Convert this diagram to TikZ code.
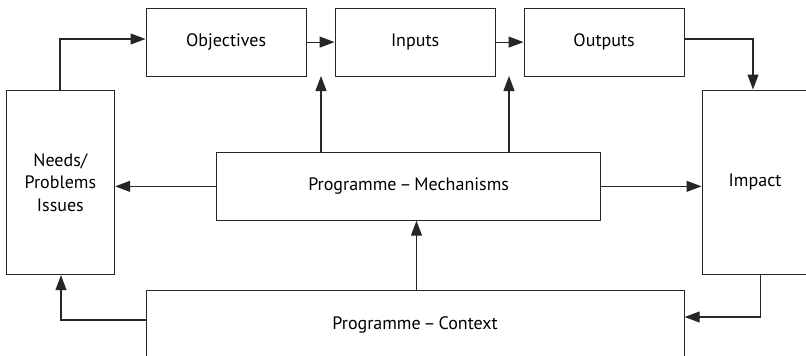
\documentclass[tikz,border=0pt]{standalone}
\usepackage{fontspec}
\setmainfont{PT Sans}
\usetikzlibrary{arrows.meta}
\begin{document}
\begin{tikzpicture}[x=1pt,y=-1pt,
  box/.style={draw=black!85,line width=1.2pt,fill=white,inner sep=0pt,font=\fontsize{18}{22.5}\selectfont,align=center},
  flow/.style={draw=black!85,line width=1.2pt,-{Triangle[length=15pt,width=11pt]}}]
\useasboundingbox (0,0) rectangle (806,356);
\begin{scope}
\clip (0,0) rectangle (806,356);
% boxes, placed by their top-left corners
\node[box,anchor=north west,minimum width=160pt,minimum height=68pt] (obj) at (145.5,7.5) {Objectives};
\node[box,anchor=north west,minimum width=160pt,minimum height=68pt] (inp) at (334.5,7.5) {Inputs};
\node[box,anchor=north west,minimum width=160pt,minimum height=68pt] (out) at (523.5,7.5) {Outputs};
\node[box,anchor=north west,minimum width=108.5pt,minimum height=184.5pt] (need) at (5.5,89.5) {Needs/\\Problems\\Issues};
\node[box,anchor=north west,minimum width=106pt,minimum height=184.5pt] (imp) at (701.5,89.5) {Impact};
\node[box,anchor=north west,minimum width=384pt,minimum height=67.5pt] (mech) at (216,152) {Programme\,–\,Mechanisms};
\node[box,anchor=north west,minimum width=538pt,minimum height=68pt] (ctx) at (145.5,290) {Programme\,–\,Context};
% free ends of the connectors
\coordinate (oi) at (321,76);
\coordinate (io) at (509,76);
% connectors
\draw[flow] (need.north -| 60,0) |- (obj.west |- 0,39);
\draw[flow] (obj.east) -- (inp.west);
\draw[flow] (inp.east) -- (out.west);
\draw[flow] (out.east |- 0,39) -| (imp.north -| 753,0);
\draw[flow] (mech.north -| oi) -- (oi);
\draw[flow] (mech.north -| io) -- (io);
\draw[flow] (mech.west) -- (need.east |- mech.west);
\draw[flow] (mech.east) -- (imp.west |- mech.east);
\draw[flow] (ctx.north -| 416.5,0) -- (mech.south -| 416.5,0);
\draw[flow] (ctx.west |- 0,320) -| (need.south -| 61,0);
\draw[flow] (imp.south -| 760.5,0) |- (ctx.east |- 0,317);
\end{scope}
\end{tikzpicture}
\end{document}
